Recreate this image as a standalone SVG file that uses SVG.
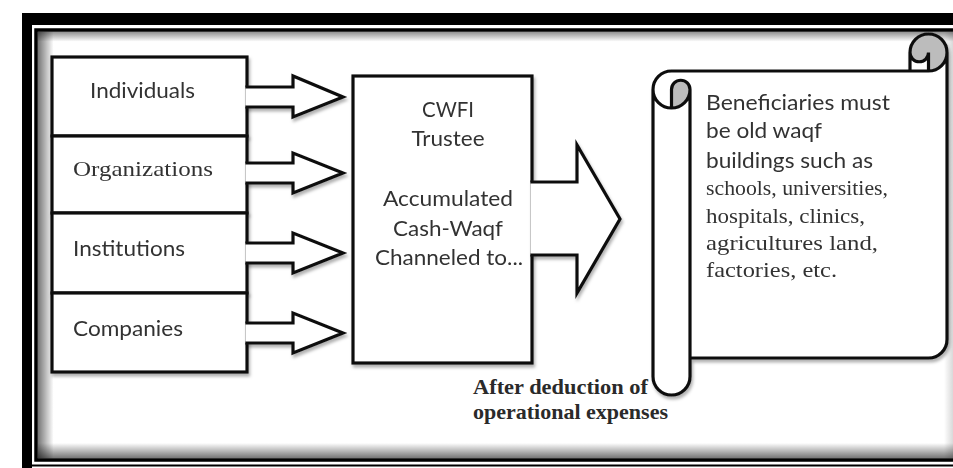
<svg xmlns="http://www.w3.org/2000/svg" width="953" height="468" viewBox="0 0 953 468">
<style>
.ln{fill:#fff;stroke:#111;stroke-width:3.2;stroke-linejoin:miter}
.open{fill:none;stroke:#111;stroke-width:3.2}
.sans{font-family:Lato,"Open Sans","Liberation Sans",sans-serif;font-size:21px;fill:#333}
.serif{font-family:"Liberation Serif","DejaVu Serif",serif;font-size:22px;fill:#333}
.bold{font-family:"Liberation Serif","DejaVu Serif",serif;font-size:21px;font-weight:bold;fill:#2a2a2a}
.mid{text-anchor:middle}
.dark{fill:#bcbcbc;stroke:none}
</style>
<defs>
<filter id="sh" x="-10%" y="-10%" width="130%" height="130%">
<feDropShadow dx="1.5" dy="3" stdDeviation="1.6" flood-color="#000" flood-opacity="0.3"/>
</filter>
<linearGradient id="gl" x1="0" y1="0" x2="1" y2="0"><stop offset="0" stop-color="#000" stop-opacity="0.55"/><stop offset="1" stop-color="#000" stop-opacity="0"/></linearGradient>
<linearGradient id="gt" x1="0" y1="0" x2="0" y2="1"><stop offset="0" stop-color="#000" stop-opacity="0.45"/><stop offset="1" stop-color="#000" stop-opacity="0"/></linearGradient>
<linearGradient id="gb" x1="0" y1="0" x2="0" y2="1"><stop offset="0" stop-color="#000" stop-opacity="0"/><stop offset="1" stop-color="#000" stop-opacity="0.55"/></linearGradient>
<linearGradient id="gr" x1="0" y1="0" x2="1" y2="0"><stop offset="0" stop-color="#000" stop-opacity="0"/><stop offset="1" stop-color="#000" stop-opacity="0.15"/></linearGradient>
</defs>
<rect x="0" y="0" width="953" height="468" fill="#fff"/>
<g id="frame">
<rect x="37.6" y="31.6" width="16" height="427" fill="url(#gl)"/>
<rect x="37.6" y="31.6" width="916" height="10" fill="url(#gt)"/>
<rect x="37.6" y="443" width="916" height="15.4" fill="url(#gb)"/>
<rect x="944" y="31.6" width="9" height="427" fill="url(#gr)"/>
<rect x="22" y="13" width="931" height="12" fill="#000"/>
<rect x="22" y="13" width="10" height="455" fill="#000"/>
<path d="M953,30 H36 V460 H953" fill="none" stroke="#000" stroke-width="3.5"/>
<path d="M32,465.5 H953" fill="none" stroke="#000" stroke-width="2"/>
</g>
<g id="individuals" filter="url(#sh)">
<rect class="ln" x="52" y="57" width="195" height="79"/>
<text class="sans" x="90" y="98" font-size="22" textLength="105" lengthAdjust="spacingAndGlyphs">Individuals</text>
</g>
<g id="organizations" filter="url(#sh)">
<rect class="ln" x="52" y="136" width="195" height="77"/>
<text class="serif" x="73" y="176" font-size="25" textLength="140" lengthAdjust="spacingAndGlyphs">Organizations</text>
</g>
<g id="institutions" filter="url(#sh)">
<rect class="ln" x="52" y="213" width="195" height="80"/>
<text class="sans" x="73" y="256" font-size="22" textLength="112" lengthAdjust="spacingAndGlyphs">Institutions</text>
</g>
<g id="companies" filter="url(#sh)">
<rect class="ln" x="52" y="293" width="195" height="79"/>
<text class="sans" x="73" y="336" font-size="22" textLength="110" lengthAdjust="spacingAndGlyphs">Companies</text>
</g>
<g id="cwfi" filter="url(#sh)">
<rect class="ln" x="353" y="76" width="179" height="287"/>
<text class="sans mid" x="448" y="117" textLength="52" lengthAdjust="spacingAndGlyphs">CWFI</text>
<text class="sans mid" x="448" y="146" textLength="73" lengthAdjust="spacingAndGlyphs">Trustee</text>
<text class="sans mid" x="448" y="206" textLength="130" lengthAdjust="spacingAndGlyphs">Accumulated</text>
<text class="sans mid" x="448" y="236" textLength="110" lengthAdjust="spacingAndGlyphs">Cash-Waqf</text>
<text class="sans mid" x="449" y="265" textLength="148" lengthAdjust="spacingAndGlyphs">Channeled to...</text>
</g>
<g id="beneficiaries" filter="url(#sh)">
<path fill="#fff" d="M947,52.5 A18.5,18.5 0 0 1 928.5,71 L928.5,52.5 A9.25,9.25 0 0 1 910,52.5 L910,71 L671.5,71 A18.5,18.5 0 0 0 653,89.5 L653,376.5 A18.5,18.5 0 0 0 690,376.5 L690,358 L928.5,358 A18.5,18.5 0 0 0 947,339.5 Z"/>
<path class="dark" d="M671.5,108 A18.5,18.5 0 0 0 690,89.5 A9.25,9.25 0 0 0 671.5,89.5 Z"/>
<path class="dark" d="M928.5,71 A18.5,18.5 0 1 0 910,52.5 A9.25,9.25 0 0 0 928.5,52.5 Z"/>
<path class="open" d="M653,89.5 A18.5,18.5 0 0 1 671.5,71 L910,71 L910,52.5 A18.5,18.5 0 0 1 947,52.5 L947,339.5 A18.5,18.5 0 0 1 928.5,358 L690,358 L690,376.5 A18.5,18.5 0 0 1 653,376.5 Z M910,71 L928.5,71 A18.5,18.5 0 0 0 947,52.5 M928.5,71 L928.5,52.5 A9.25,9.25 0 0 1 910,52.5 M671.5,108 L671.5,89.5 A9.25,9.25 0 0 1 690,89.5 A18.5,18.5 0 0 1 653,89.5 M690,89.5 L690,358"/>
<text class="sans" x="706" y="110" textLength="184" lengthAdjust="spacingAndGlyphs">Beneficiaries must</text>
<text class="sans" x="706" y="138" textLength="116" lengthAdjust="spacingAndGlyphs">be old waqf</text>
<text class="sans" x="706" y="168" textLength="167" lengthAdjust="spacingAndGlyphs">buildings such as</text>
<text class="serif" x="706" y="195" textLength="182" lengthAdjust="spacingAndGlyphs">schools, universities,</text>
<text class="serif" x="706" y="223" textLength="159" lengthAdjust="spacingAndGlyphs">hospitals, clinics,</text>
<text class="serif" x="706" y="250" textLength="172" lengthAdjust="spacingAndGlyphs">agricultures land,</text>
<text class="serif" x="706" y="277" textLength="131" lengthAdjust="spacingAndGlyphs">factories, etc.</text>
</g>
<g id="connectors">
<path class="ln" filter="url(#sh)" d="M245.4,87 H293 V76 L343,97 L293,117 V107 H245.4"/>
<path class="ln" filter="url(#sh)" d="M245.4,163 H293 V153 L343,173 L293,193 V183 H245.4"/>
<path class="ln" filter="url(#sh)" d="M245.4,243 H293 V233 L343,253 L293,273 V263 H245.4"/>
<path class="ln" filter="url(#sh)" d="M245.4,323 H293 V313 L343,333 L293,353 V343 H245.4"/>
<path class="ln" filter="url(#sh)" d="M530.4,182 H577 V145 L620,219 L577,293 V255 H530.4"/>
<text class="bold" x="473" y="394" textLength="175" lengthAdjust="spacingAndGlyphs">After deduction of</text>
<text class="bold" x="473" y="419" textLength="195" lengthAdjust="spacingAndGlyphs">operational expenses</text>
</g>
</svg>
